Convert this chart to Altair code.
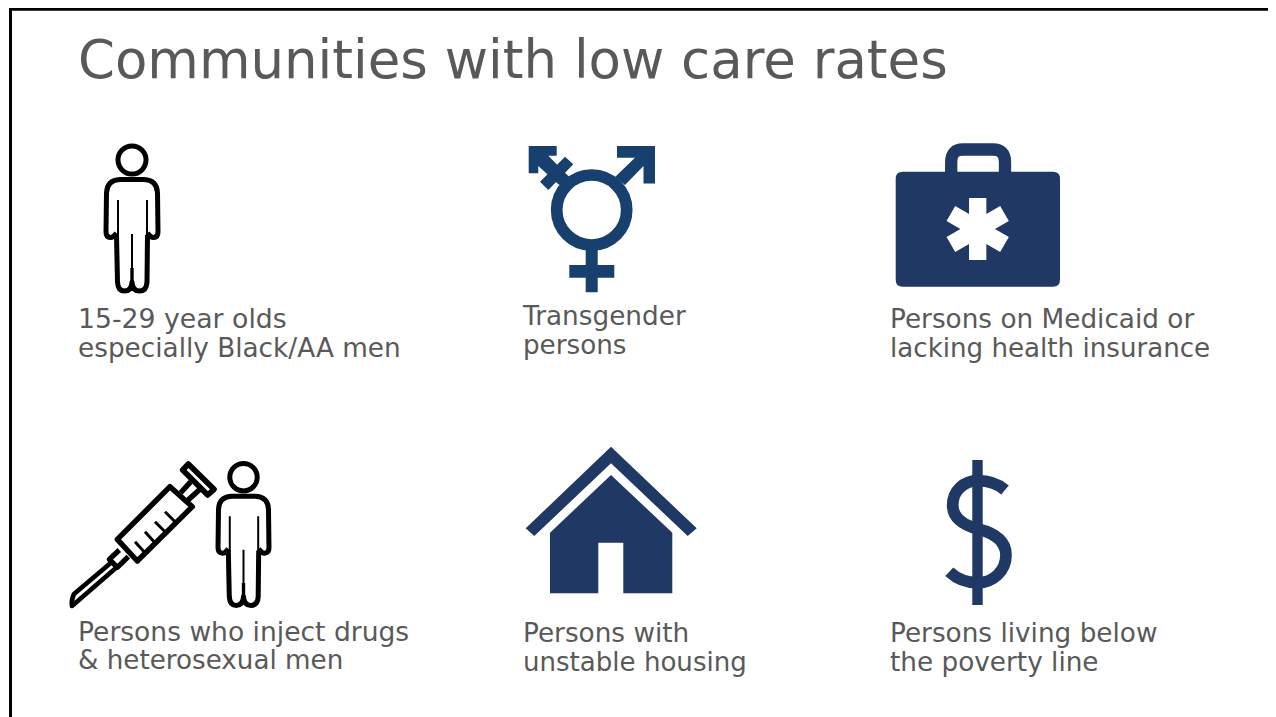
import altair as alt
import pandas as pd

TEXT_COLOR = "#595959"
TITLE = "Communities with low care rates"
LABEL_TEXT = ["15-29 year olds", "especially Black/AA men", "Transgender", "persons",
              "Persons on Medicaid or", "lacking health insurance",
              "Persons who inject drugs", "& heterosexual men", "Persons with", "unstable housing",
              "Persons living below", "the poverty line"]
LABEL_X = [78, 78, 523, 523, 890, 890, 78, 78, 523, 523, 890, 890]
LABEL_Y = [328, 357, 325, 354, 328, 357, 641, 669, 642, 671, 642, 671]
LABEL_SIZE = [26.7, 26.3, 26.3, 26.2, 26.3, 26.14, 26.54, 26.2, 26.3, 26.07, 26.3, 26.3]

NAVY = "#1f3864"
BLUE = "#17406f"
BLACK = "#000000"
WHITE = "#ffffff"
NONE = "transparent"

PERSON_OUT = ("M-15.5,15 Q-19,20 -22,19.5 Q-26,19 -26,14 L-25.5,-25 Q-25,-38 -12,-38.5 L12,-38.5 "
              "Q25,-38 25.5,-25 L26,14 Q26,19 22,19.5 Q19,20 15.5,15 "
              "M-15.5,17 L-14.5,64 Q-14,73 -7.5,73 Q-0.5,73 0,64 Q0.5,73 7.5,73 Q14.5,73 15,64 L15.5,17")
PERSON_THIN = "M-14,-18 L-14,18 M15,-18 L15,18 M0,16 L0,52"
PERSON_MID = "M0,50 L0,66"
HEAD = "M-14,-58 A14,14 0 1,1 14,-58 A14,14 0 1,1 -14,-58 Z"

# anchor x, anchor y, scale, path, fill, stroke, stroke width
PIECES = [
    # person
    (132, 218, 1, HEAD, NONE, BLACK, 5),
    (132, 218, 1, PERSON_OUT, NONE, BLACK, 5),
    (132, 218, 1, PERSON_THIN, NONE, BLACK, 2),
    (132, 218, 1, PERSON_MID, NONE, BLACK, 3.4),
    # second person
    (243.5, 534, 0.98, HEAD, NONE, BLACK, 5),
    (243.5, 534, 0.98, PERSON_OUT, NONE, BLACK, 5),
    (243.5, 534, 0.98, PERSON_THIN, NONE, BLACK, 2),
    (243.5, 534, 0.98, PERSON_MID, NONE, BLACK, 3.4),
    # transgender symbol
    (591.7, 210, 1, "M-35,0 A35,35 0 1,1 35,0 A35,35 0 1,1 -35,0 Z", NONE, BLUE, 11.7),
    (0, 0, 1, "M585.7,248 H597.7 V265 H614.3 V277.7 H597.7 V292.3 H585.7 V277.7 H569.3 V265 H585.7 Z", BLUE, NONE, 0),
    (0, 0, 1, "M617,146 H655 V183.5 H643.5 V166 L625,185 L615,177 L635,157.7 H617 Z", BLUE, NONE, 0),
    (0, 0, 1, "M528.7,146 H556.7 V155.7 H548.3 L570,177.7 L559.3,185 L538.3,166 V173.3 H528.7 Z", BLUE, NONE, 0),
    (0, 0, 1, "M565,156.7 L573.3,164.3 L548.3,190 L540,181.7 Z", BLUE, NONE, 0),
    # briefcase
    (0, 0, 1, "M951.2,175 V162 Q951.2,149.5 963,149.5 H993 Q1005,149.5 1005,162 V175", NONE, NAVY, 12.3),
    (0, 0, 1, "M902.7,171.7 H1053 Q1060,171.7 1060,178.7 V279.7 Q1060,286.7 1053,286.7 H902.7 "
              "Q895.7,286.7 895.7,279.7 V178.7 Q895.7,171.7 902.7,171.7 Z", NAVY, NONE, 0),
    (977.7, 229, 1, "M0,-31 V31 M-26.8,-15.5 L26.8,15.5 M-26.8,15.5 L26.8,-15.5", NONE, WHITE, 17.3),
    # syringe
    (0, 0, 1, "M117.3,539.3 L170,486.7 L192.3,506.7 L137.3,561 Z", NONE, BLACK, 5.4),
    (0, 0, 1, "M180.7,492.7 L190.7,481.7 M187,501 L200,489.3", NONE, BLACK, 5.4),
    (0, 0, 1, "M188.3,464 L214,489.3 L207.7,495 L182.7,470 Z", NONE, BLACK, 5.6),
    (0, 0, 1, "M135,541.7 L144,551.7 M145,531.7 L154,541.7 M155,521.7 L165,531.7 M165,511.7 L175,521.7", NONE, BLACK, 3),
    (0, 0, 1, "M119.3,550 L109.3,559.3 L117.3,567.3 L128.3,556.7", NONE, BLACK, 5.2),
    (0, 0, 1, "M113,561 L74,594 Q71,600 72,606 L117,567", NONE, BLACK, 4.6),
    # house
    (0, 0, 1, "M611,446.7 L696.7,528.3 L687.7,536 L611,463.3 L534.3,536 L525.7,528.3 Z", NAVY, NONE, 0),
    (0, 0, 1, "M611,475 L672.3,532.7 V593.3 H623.3 V542.7 H598.3 V593.3 H550 V532.7 Z", NAVY, NONE, 0),
    # dollar
    (0, 0, 1, "M977.5,460 V605", NONE, NAVY, 10.4),
    (0, 0, 1, "M1005,490 C998,484 989,480.7 978,480.7 C964,480.7 952.7,491 952.7,505 C952.7,518 963,525 978,529 "
              "C994,533 1006,541 1006,555 C1006,571 993,582.7 978,582.7 C966,582.7 957,579 949.3,571.7", NONE, NAVY, 11.7),
]

X_DOMAIN = [8, 1268]
Y_DOMAIN = [8, 717]
BORDER_X = [10.5]
BORDER_Y = [9.2]

x_scale = alt.Scale(domain=X_DOMAIN, range=[0, 1260], nice=False, zero=False)
y_scale = alt.Scale(domain=Y_DOMAIN, range=[0, 709], nice=False, zero=False)
X = lambda f: alt.X(f, type="quantitative", scale=x_scale, axis=None)
Y = lambda f: alt.Y(f, type="quantitative", scale=y_scale, axis=None)

df = pd.DataFrame(PIECES, columns=["x", "y", "s", "path", "fill", "stroke", "w"])
df["size"] = 4 * df["s"] ** 2
df["i"] = range(len(df))

icons = alt.Chart(df).mark_point(opacity=1, strokeJoin="round", clip=False).encode(
    x=X("x"), y=Y("y"),
    shape=alt.Shape("path:N", scale=None),
    size=alt.Size("size:Q", scale=None),
    fill=alt.Fill("fill:N", scale=None),
    stroke=alt.Stroke("stroke:N", scale=None),
    strokeWidth=alt.StrokeWidth("w:Q", scale=None),
    order=alt.Order("i:Q"),
)

left = alt.Chart(pd.DataFrame({"x": BORDER_X, "a": [Y_DOMAIN[0]], "b": [Y_DOMAIN[1]]})).mark_rule(
    color=BLACK, strokeWidth=3).encode(x=X("x"), y=Y("a"), y2="b:Q")
top = alt.Chart(pd.DataFrame({"y": BORDER_Y, "a": [9], "b": [X_DOMAIN[1]]})).mark_rule(
    color=BLACK, strokeWidth=3).encode(y=Y("y"), x=X("a"), x2="b:Q")

title = alt.Chart(pd.DataFrame({"x": [78], "y": [78], "t": [TITLE]})).mark_text(
    font="DejaVu Sans", fontSize=52.95, color=TEXT_COLOR, align="left", baseline="alphabetic"
).encode(x=X("x"), y=Y("y"), text="t:N")

labels = alt.Chart(pd.DataFrame({"x": LABEL_X, "y": LABEL_Y, "t": LABEL_TEXT, "s": LABEL_SIZE})).mark_text(
    font="DejaVu Sans", color=TEXT_COLOR, align="left", baseline="alphabetic"
).encode(x=X("x"), y=Y("y"), text="t:N", size=alt.Size("s:Q", scale=None))

chart = alt.layer(left, top, icons, title, labels).properties(
    width=1260, height=709, padding=0, autosize=alt.AutoSizeParams(type="none"), background="white"
).configure_view(stroke=None)

chart.save("out.html", embed_options={"renderer": "svg", "actions": False})
